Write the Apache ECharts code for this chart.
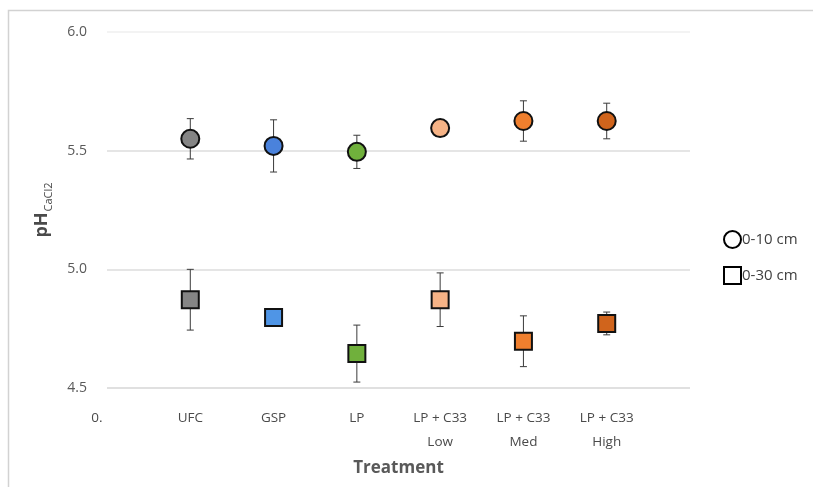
<!DOCTYPE html>
<html><head><meta charset="utf-8">
<script src="https://cdn.jsdelivr.net/npm/echarts@6/dist/echarts.min.js"></script>
<style>html,body{margin:0;padding:0;background:#fff}#c{width:813px;height:487px}</style>
</head><body><div id="c"></div>
<script>
const categories = ['UFC', 'GSP', 'LP', 'LP + C33\nLow', 'LP + C33\nMed', 'LP + C33\nHigh'];
const yTicks = [4.5, 5.0, 5.5, 6.0];
const depth10Mean = [5.55, 5.52, 5.495, 5.595, 5.625, 5.625];
const depth10Err  = [0.085, 0.11, 0.07, 0.02, 0.085, 0.075];
const depth30Mean = [4.872, 4.797, 4.645, 4.872, 4.697, 4.772];
const depth30Err  = [0.128, 0.02, 0.12, 0.113, 0.107, 0.048];
const pointColors10 = ['#858585', '#4a82dc', '#70b03c', '#f6b386', '#ef7f2e', '#d0641c'];
const pointColors30 = ['#858585', '#4f95e6', '#70b03c', '#f6b386', '#ef7f2e', '#d0641c'];
const seriesNames = ['0-10 cm', '0-30 cm'];

const axisCats = ['0.'].concat(categories, ['']);
const font = 'Open Sans';

function pts(means) { return means.map((v, i) => [categories[i], v]); }
function errData(means, errs) { return means.map((v, i) => [categories[i], v - errs[i], v + errs[i]]); }

function errRender(params, api) {
  const c = api.value(0);
  const lo = api.coord([c, api.value(1)]);
  const hi = api.coord([c, api.value(2)]);
  const w = 3.5;
  const st = { stroke: '#3a3a3a', lineWidth: 1 };
  return { type: 'group', children: [
    { type: 'line', shape: { x1: lo[0], y1: lo[1], x2: hi[0], y2: hi[1] }, style: st },
    { type: 'line', shape: { x1: lo[0] - w, y1: lo[1], x2: lo[0] + w, y2: lo[1] }, style: st },
    { type: 'line', shape: { x1: hi[0] - w, y1: hi[1], x2: hi[0] + w, y2: hi[1] }, style: st }
  ]};
}

const chart = echarts.init(document.getElementById('c'));
chart.setOption({
  animation: false,
  backgroundColor: '#fff',
  graphic: [{ type: 'rect', shape: { x: 8.5, y: 10.5, width: 820, height: 500 }, style: { fill: 'none', stroke: '#d2d2d2', lineWidth: 1.5 }, silent: true, z: -1 }],
  grid: { left: 107, right: 123, top: 32, bottom: 99 },
  legend: {
    orient: 'vertical', left: 718, top: 225, itemGap: 17, itemWidth: 17, itemHeight: 17,
    textStyle: { fontFamily: font, fontSize: 15, color: '#404040', padding: [0, 0, 0, -4] },
    data: [
      { name: seriesNames[0], icon: 'circle', itemStyle: { color: '#fff', borderColor: '#000', borderWidth: 2 } },
      { name: seriesNames[1], icon: 'rect', itemStyle: { color: '#fff', borderColor: '#000', borderWidth: 2 } }
    ]
  },
  xAxis: {
    type: 'category', data: axisCats, boundaryGap: false,
    name: 'Treatment', nameLocation: 'middle', nameGap: 72,
    nameTextStyle: { fontFamily: font, fontSize: 17, fontWeight: 'bold', color: '#595959' },
    axisLine: { show: false }, axisTick: { show: false },
    axisLabel: {
      interval: 0, margin: 18, fontFamily: font, fontSize: 13.5, color: '#4a4a4a', lineHeight: 24,
      formatter: (v, i) => i === 0 ? '{z|' + v + '}' : v,
      rich: { z: { fontFamily: font, fontSize: 13.5, color: '#4a4a4a', padding: [0, 20, 0, 0] } }
    },
    splitLine: { show: false }
  },
  yAxis: {
    type: 'value', min: yTicks[0], max: yTicks[yTicks.length - 1], interval: 0.5,
    name: '{a|pH}{b|CaCl2}', nameLocation: 'middle', nameGap: 56, nameRotate: 90,
    nameTextStyle: { rich: {
      a: { fontFamily: font, fontSize: 18, fontWeight: 'bold', color: '#4a4a4a', verticalAlign: 'bottom' },
      b: { fontFamily: font, fontSize: 11, color: '#4a4a4a', verticalAlign: 'bottom', padding: [0, 0, -3, 1] }
    } },
    axisLine: { show: false }, axisTick: { show: false },
    axisLabel: { margin: 20, fontFamily: font, fontSize: 14, color: '#595959', formatter: v => v.toFixed(1) },
    splitLine: { lineStyle: { color: ['#d6d6d6', '#dcdcdc', '#dcdcdc', '#efefef'], width: 1.5 } }
  },
  series: [
    { type: 'custom', name: 'err10', renderItem: errRender, data: errData(depth10Mean, depth10Err), encode: { x: 0, y: [1, 2] }, z: 2, silent: true },
    { type: 'custom', name: 'err30', renderItem: errRender, data: errData(depth30Mean, depth30Err), encode: { x: 0, y: [1, 2] }, z: 2, silent: true },
    { type: 'scatter', name: seriesNames[0], symbol: 'circle', symbolSize: 18, z: 3,
      data: pts(depth10Mean),
      itemStyle: { color: p => pointColors10[p.dataIndex], borderColor: '#111', borderWidth: 2, opacity: 1 } },
    { type: 'scatter', name: seriesNames[1], symbol: 'rect', symbolSize: 17, z: 3,
      data: pts(depth30Mean),
      itemStyle: { color: p => pointColors30[p.dataIndex], borderColor: '#111', borderWidth: 2, opacity: 1 } }
  ]
});
</script>
</body></html>
